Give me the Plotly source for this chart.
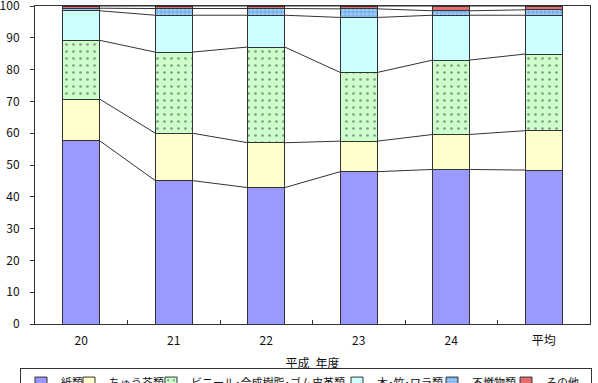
import numpy as np
import plotly.graph_objects as go

categories = ["20", "21", "22", "23", "24", "平均"]
paper = [57.6, 45.1, 42.9, 47.9, 48.6, 48.4]
kitchen = [13.1, 14.9, 14.1, 9.6, 11.0, 12.4]
vinyl = [18.5, 25.5, 30.1, 21.6, 23.4, 24.1]
wood = [9.3, 11.6, 10.0, 17.3, 14.1, 12.2]
noncomb = [0.8, 2.1, 2.1, 2.7, 1.4, 1.7]
other = [0.7, 0.8, 0.8, 0.9, 1.5, 1.2]
series_names = ["紙類", "ちゅう芥類", "ビニール･合成樹脂･ゴム皮革類", "木･竹･ワラ類", "不燃物類", "その他"]
y_ticks = list(range(0, 101, 10))

series = [paper, kitchen, vinyl, wood, noncomb, other]
colors = ["#9999FF", "#FFFFCC", "#CCFFCC", "#CCFFFF", "#99CCFF", "#E46C6C"]
patterns = [None,
            None,
            dict(shape=".", fgcolor="#333333", size=7, solidity=0.12),
            None,
            dict(shape="+", fgcolor="#3A6EB0", size=4, solidity=0.35),
            None]
legend_widths = [3, 37, 141, 50, 29, 40]

BAR_W = 0.4
LINE_C = "#333333"
xs = np.arange(len(categories))

fig = go.Figure()
for name, vals, col, pat, lw in zip(series_names, series, colors, patterns, legend_widths):
    marker = dict(color=col, line=dict(color=LINE_C, width=1))
    if pat is not None:
        marker["pattern"] = pat
    fig.add_trace(go.Bar(x=xs, y=vals, name=name, width=BAR_W, marker=marker,
                         legendwidth=lw))

# connector lines between cumulative tops
cum = np.cumsum(np.array(series), axis=0)
for level in cum:
    lx, ly = [], []
    for i in range(len(xs) - 1):
        lx += [xs[i] + BAR_W / 2, xs[i + 1] - BAR_W / 2, None]
        ly += [level[i], level[i + 1], None]
    fig.add_trace(go.Scatter(x=lx, y=ly, mode="lines", line=dict(color=LINE_C, width=1),
                             showlegend=False, hoverinfo="skip"))

font = "Noto Sans CJK JP"
fig.update_layout(
    barmode="stack",
    width=598, height=383,
    margin=dict(l=35, r=8, t=6, b=59, autoexpand=False),
    plot_bgcolor="white", paper_bgcolor="white",
    font=dict(family=font, size=11, color="#111111"),
    showlegend=True,
    legend=dict(orientation="h", x=-0.027, xanchor="left", y=-0.137, yanchor="top",
                bordercolor=LINE_C, borderwidth=1, font=dict(size=11),
                itemwidth=30, traceorder="normal"),
    xaxis=dict(range=[-0.5, len(categories) - 0.5], tickmode="array", tickvals=xs,
               ticktext=categories, ticks="", showline=True, linecolor=LINE_C, mirror=True,
               showgrid=False, zeroline=False, ticklabelstandoff=6,
               minor=dict(tickmode="array", tickvals=list(xs[:-1] + 0.5), ticks="inside",
                          ticklen=4, tickcolor=LINE_C, showgrid=False),
               title=dict(text="平成\u2002年度", font=dict(size=12), standoff=12),
               tickfont=dict(size=12)),
    yaxis=dict(range=[0, 100], tickmode="array", tickvals=y_ticks, ticks="outside",
               ticklen=4, tickcolor=LINE_C, showline=True, linecolor=LINE_C, mirror=True,
               showgrid=False, zeroline=False, tickfont=dict(size=12),
               ticklabelstandoff=8, ticklabeloverflow="allow"),
)

fig.write_html("out.html")
